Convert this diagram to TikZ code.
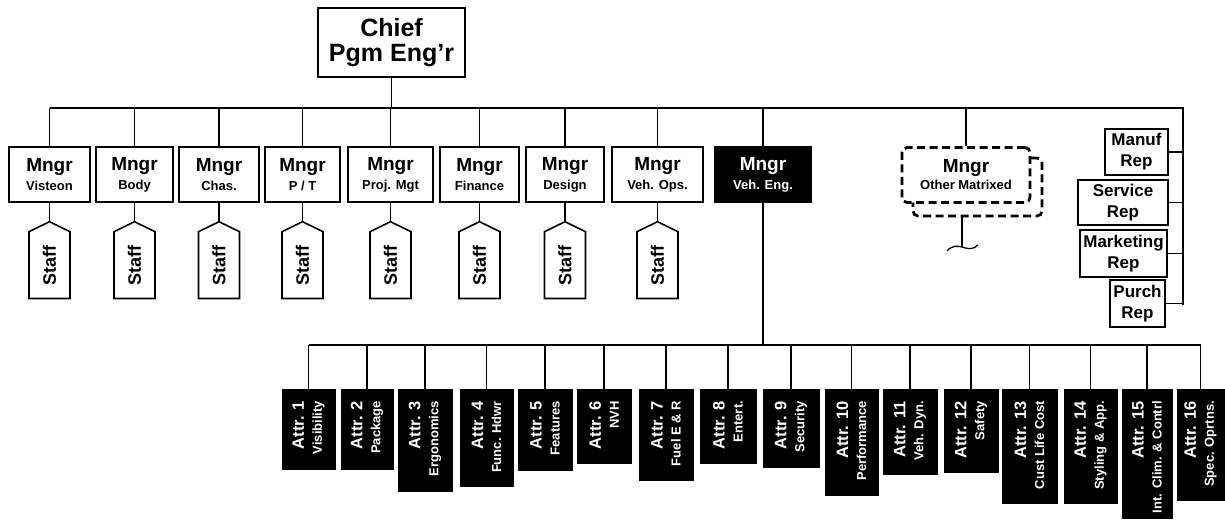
\documentclass[tikz,border=0pt]{standalone}
\usepackage{fontspec}
\setmainfont{Liberation Sans}
\usetikzlibrary{shapes.symbols,calc}

% two-line manager label: title and smaller department name
\newcommand{\mngr}[1]{Mngr\\{\fontsize{13}{13}\selectfont #1}}
\newcommand{\subf}{\fontsize{13}{18}\selectfont}

\tikzset{
  conn/.style={line width=1.3pt},
  box/.style={draw, line width=1.6pt, fill=white, inner sep=0pt, align=center, font=\bfseries},
  mgrbox/.style={box, minimum height=55pt, font=\bfseries\fontsize{19}{19}\selectfont},
  repbox/.style={box, font=\bfseries\fontsize{17}{21}\selectfont},
  dashbox/.style={draw, line width=2.8pt, dash pattern=on 8pt off 4.5pt, rounded corners=5pt,
    fill=white, inner sep=0pt, align=center, font=\bfseries\fontsize{19}{17}\selectfont},
  staffbox/.style={draw, line width=1.6pt, fill=white, shape=signal, signal to=north,
    signal from=nowhere, signal pointer angle=128, minimum width=41pt, minimum height=70pt,
    inner sep=0pt, font=\bfseries\fontsize{18}{18}\selectfont},
  attrbox/.style={draw=black, fill=black, inner sep=0pt},
  attrtext/.style={rotate=90, anchor=east, align=right, text=white, inner sep=0pt,
    font=\bfseries\fontsize{16.5}{18}\selectfont}
}

\begin{document}
\begin{tikzpicture}[x=1pt,y=-1pt]
\useasboundingbox (0,0) rectangle (1225,520);

% top of the chart
\node[box, minimum width=147pt, minimum height=69pt, font=\bfseries\fontsize{25}{25}\selectfont]
  (chief) at (391.5,42.5) {Chief\\Pgm Eng’r};

% main bus
\coordinate (busL) at (49.5,108);
\coordinate (busR) at (1183,108);
\coordinate (repEnd) at (1183,305);
\draw[conn] (chief.south) -- (chief.south |- busL);
\draw[conn] (busL) -- (busR) -- (repEnd);

% managers
\node[mgrbox, minimum width=81pt] (m1) at (49.5,174.5) {\mngr{Visteon}};
\node[mgrbox, minimum width=77pt] (m2) at (134.5,174.5) {\mngr{Body}};
\node[mgrbox, minimum width=80pt] (m3) at (219,174.5) {\mngr{Chas.}};
\node[mgrbox, minimum width=75pt] (m4) at (302.5,174.5) {\mngr{P / T}};
\node[mgrbox, minimum width=85pt] (m5) at (390.5,174.5) {\mngr{Proj. Mgt}};
\node[mgrbox, minimum width=79pt] (m6) at (479.5,174.5) {\mngr{Finance}};
\node[mgrbox, minimum width=78pt] (m7) at (565,174.5) {\mngr{Design}};
\node[mgrbox, minimum width=91pt] (m8) at (657.5,174.5) {\mngr{Veh. Ops.}};
\node[mgrbox, fill=black, text=white, minimum width=96pt] (m9) at (763,174.5) {\mngr{Veh. Eng.}};

\foreach \m in {m1,m2,m3,m4,m5,m6,m7,m8,m9}
  \draw[conn] (\m.north) -- (\m.north |- busL);

% staff tags
\foreach \i in {1,...,8}{
  \node[staffbox, anchor=north] (s\i) at ($(m\i.south)+(0,18)$) {\rotatebox{90}{Staff}};
  \draw[conn] (m\i.south) -- (s\i.north);
}

% matrixed manager (dashed, with a second outline behind)
\node[dashbox, minimum width=129pt, minimum height=58pt] (mob) at (977.5,187) {};
\node[dashbox, minimum width=128pt, minimum height=55pt] (mo) at (966,175) {\mngr{Other Matrixed}};
\draw[conn] (mo.north) -- (mo.north |- busL);
\coordinate (tail) at (962,247);
\draw[conn] (mob.south -| tail) -- (tail);
\draw[conn] (947,251) .. controls (952,245) and (958,246) .. (962,247)
  .. controls (968,249) and (973,250) .. (978,245);

% representatives
\node[repbox, minimum width=63pt, minimum height=46pt] (r1) at (1136.5,152) {Manuf\\Rep};
\node[repbox, minimum width=90pt, minimum height=45pt] (r2) at (1123,202.5) {Service\\Rep};
\node[repbox, minimum width=87pt, minimum height=47pt] (r3) at (1123.5,253.5) {Marketing\\Rep};
\node[repbox, minimum width=55pt, minimum height=47pt] (r4) at (1137.5,303.5) {Purch\\Rep};
\foreach \r in {r1,r2,r3,r4}
  \draw[conn] (\r.east) -- (\r.east -| busR);

% attribute bus
\coordinate (abL) at (308.5,345);
\coordinate (abR) at (1200.5,345);
\draw[conn] (m9.south) -- (m9.south |- abL);
\draw[conn] (abL) -- (abR);

% attribute boxes
\node[attrbox, minimum width=53pt, minimum height=80pt]  (a1)  at (308.5,429) {};
\node[attrbox, minimum width=52pt, minimum height=80pt]  (a2)  at (367,429) {};
\node[attrbox, minimum width=54pt, minimum height=102pt] (a3)  at (425,440) {};
\node[attrbox, minimum width=53pt, minimum height=97pt]  (a4)  at (486.5,437.5) {};
\node[attrbox, minimum width=54pt, minimum height=81pt]  (a5)  at (545,429.5) {};
\node[attrbox, minimum width=54pt, minimum height=74pt]  (a6)  at (604,426) {};
\node[attrbox, minimum width=54pt, minimum height=91pt]  (a7)  at (666,434.5) {};
\node[attrbox, minimum width=56pt, minimum height=74pt]  (a8)  at (728,426) {};
\node[attrbox, minimum width=56pt, minimum height=78pt]  (a9)  at (791,428) {};
\node[attrbox, minimum width=53pt, minimum height=106pt] (a10) at (851.5,442) {};
\node[attrbox, minimum width=54pt, minimum height=85pt]  (a11) at (910,431.5) {};
\node[attrbox, minimum width=54pt, minimum height=83pt]  (a12) at (971,430.5) {};
\node[attrbox, minimum width=55pt, minimum height=114pt] (a13) at (1029.5,446) {};
\node[attrbox, minimum width=53pt, minimum height=114pt] (a14) at (1090.5,446) {};
\node[attrbox, minimum width=50pt, minimum height=129pt] (a15) at (1147,453.5) {};
\node[attrbox, minimum width=47pt, minimum height=111pt] (a16) at (1200.5,444.5) {};

\foreach \i in {1,...,16}
  \draw[conn] (a\i.north) -- (a\i.north |- abL);

\node[attrtext] (t1)  at ($(a1.north)+(0,12)$)  {Attr. 1\\\subf Visibility};
\node[attrtext] (t2)  at ($(a2.north)+(0,12)$)  {Attr. 2\\\subf Package};
\node[attrtext] (t3)  at ($(a3.north)+(0,12)$)  {Attr. 3\\\subf Ergonomics};
\node[attrtext] (t4)  at ($(a4.north)+(0,12)$)  {Attr. 4\\\subf Func. Hdwr};
\node[attrtext] (t5)  at ($(a5.north)+(0,12)$)  {Attr. 5\\\subf Features};
\node[attrtext] (t6)  at ($(a6.north)+(0,12)$)  {Attr. 6\\\subf NVH};
\node[attrtext] (t7)  at ($(a7.north)+(0,12)$)  {Attr. 7\\\subf Fuel E \& R};
\node[attrtext] (t8)  at ($(a8.north)+(0,12)$)  {Attr. 8\\\subf Entert.};
\node[attrtext] (t9)  at ($(a9.north)+(0,12)$)  {Attr. 9\\\subf Security};
\node[attrtext] (t10) at ($(a10.north)+(0,12)$) {Attr. 10\\\subf Performance};
\node[attrtext] (t11) at ($(a11.north)+(0,12)$) {Attr. 11\\\subf Veh. Dyn.};
\node[attrtext] (t12) at ($(a12.north)+(0,12)$) {Attr. 12\\\subf Safety};
\node[attrtext] (t13) at ($(a13.north)+(0,12)$) {Attr. 13\\\subf Cust Life Cost};
\node[attrtext] (t14) at ($(a14.north)+(0,12)$) {Attr. 14\\\subf Styling \& App.};
\node[attrtext] (t15) at ($(a15.north)+(0,12)$) {Attr. 15\\\subf Int. Clim. \& Contrl};
\node[attrtext] (t16) at ($(a16.north)+(0,12)$) {Attr. 16\\\subf Spec. Oprtns.};
\end{tikzpicture}
\end{document}
